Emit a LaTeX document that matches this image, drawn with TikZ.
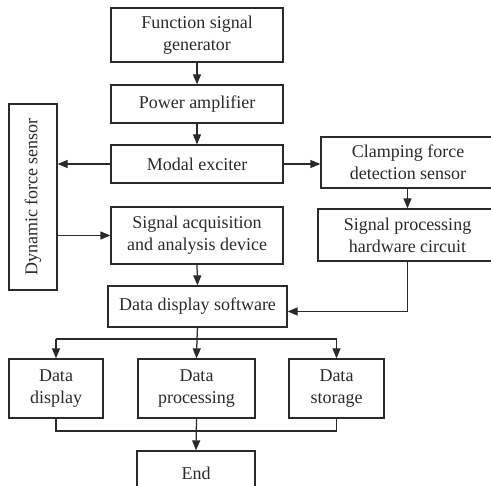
\documentclass[tikz,border=0pt]{standalone}
\usepackage{fontspec}
\setmainfont{Liberation Serif}
\usetikzlibrary{arrows.meta}
\definecolor{ink}{HTML}{2A2A2A}
\begin{document}
\begin{tikzpicture}[x=1pt,y=-1pt,
  box/.style={draw=ink,line width=1.25pt,rectangle,inner sep=0pt,align=center,text=ink,
    font=\fontsize{18}{22}\selectfont},
  conn/.style={draw=ink,line width=1.25pt},
  arr/.style={conn,-{Triangle[length=10pt,width=8pt]}}]
\useasboundingbox (0,0) rectangle (491,486);
\node[box,minimum width=172pt,minimum height=54pt] (fsg) at (197,35) {Function signal\\generator};
\node[box,minimum width=172pt,minimum height=38pt] (pa) at (197,104) {Power amplifier};
\node[box,minimum width=172pt,minimum height=38pt] (me) at (197,164) {Modal exciter};
\node[box,minimum width=186pt,minimum height=48pt,rotate=90] (dfs) at (33,197) {Dynamic force sensor};
\node[box,minimum width=172pt,minimum height=57pt] (sa) at (197,235.5) {Signal acquisition\\and analysis device};
\node[box,minimum width=174pt,minimum height=51pt] (cf) at (408,162.5) {Clamping force\\detection sensor};
\node[box,minimum width=179pt,minimum height=52pt] (sp) at (407.5,235) {Signal processing\\hardware circuit};
\node[box,minimum width=179pt,minimum height=41pt] (dds) at (197.5,306.5) {Data display software};
\node[box,minimum width=94pt,minimum height=59pt] (dd) at (56,388.5) {Data\\display};
\node[box,minimum width=117pt,minimum height=59pt] (dp) at (196.5,388.5) {Data\\processing};
\node[box,minimum width=95pt,minimum height=59pt] (ds) at (336.5,388.5) {Data\\storage};
\node[box,minimum width=118pt,minimum height=44pt] (end) at (196,473) {End};
\coordinate (j1) at (197,339);
\coordinate (j2) at (197,431);
\draw[arr] (fsg.south) -- (pa.north);
\draw[arr] (pa.south) -- (me.north);
\draw[arr] (me.west) -- (me.west -| dfs.south);
\draw[arr] (dfs.south |- sa.west) -- (sa.west);
\draw[arr] (me.east) -- (me.east -| cf.west);
\draw[arr] (cf.south) -- (sp.south |- cf.south) -- (sp.north);
\draw[arr] (sa.south) -- (dds.north);
\draw[arr] (sp.south) |- ([yshift=-5pt]dds.east);
\draw[conn] (dds.south) -- (j1);
\draw[conn] (j1 -| dd.north) -- (j1 -| ds.north);
\draw[arr] (j1 -| dd.north) -- (dd.north);
\draw[arr] (j1) -- (dp.north);
\draw[arr] (j1 -| ds.north) -- (ds.north);
\draw[conn] (dd.south) -- (j2 -| dd.south) -- (j2 -| ds.south) -- (ds.south);
\draw[arr] (dp.south) -- (end.north);
\end{tikzpicture}
\end{document}
